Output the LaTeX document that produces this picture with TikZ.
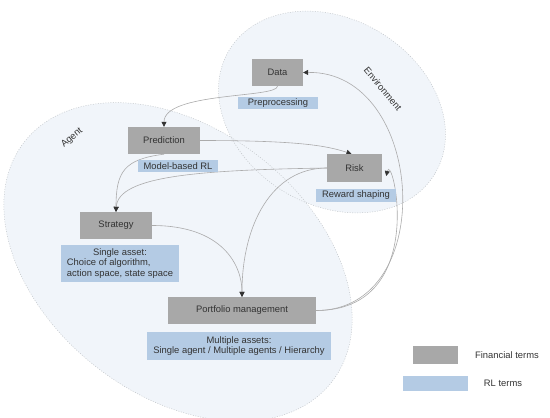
\documentclass[tikz,border=0pt]{standalone}
\usepackage{fontspec}
\setmainfont{Liberation Sans}
\usetikzlibrary{arrows.meta, positioning}
\definecolor{finGrey}{HTML}{A8A8A8}
\definecolor{rlBlue}{HTML}{B4CBE4}
\definecolor{zoneFill}{HTML}{F1F5FA}
\definecolor{zoneLine}{HTML}{C2C6CA}
\definecolor{linkGrey}{HTML}{ABABAB}
\definecolor{txtGrey}{HTML}{333333}
\pgfdeclarelayer{zones}
\pgfdeclarelayer{links}
\pgfsetlayers{zones,links,main}
\tikzset{
  every node/.style = {font=\fontsize{9.4}{10.6}\selectfont, text=txtGrey},
  fin/.style        = {fill=finGrey, inner sep=0pt},
  rl/.style         = {fill=rlBlue, inner sep=0pt},
  zonelbl/.style    = {inner sep=0.5pt},
  zone/.style       = {fill=zoneFill},
  zoneborder/.style = {zoneLine, line width=0.5pt, dash pattern=on 1pt off 1.5pt},
  link/.style       = {linkGrey, line width=0.6pt,
                       -{Triangle[length=5pt, width=5pt, color=txtGrey]}},
}
\begin{document}
\begin{tikzpicture}[x=1pt,y=-1pt]
  \useasboundingbox (0,0) rectangle (550,418);
  \begin{pgfonlayer}{zones}
    \fill[zone, rotate around={-38:(178,262)}] (178,262) ellipse [x radius=195, y radius=133];
    \fill[zone, rotate around={-31:(332,112)}] (332,112) ellipse [x radius=120, y radius=93];
    \draw[zoneborder, rotate around={-38:(178,262)}] (178,262) ellipse [x radius=195, y radius=133];
    \draw[zoneborder, rotate around={-31:(332,112)}] (332,112) ellipse [x radius=120, y radius=93];
  \end{pgfonlayer}
  \node[zonelbl, rotate=40] (agent) at (72,138) {Agent};
  \node[zonelbl, rotate=-50] (env) at (383,89) {Environment};
  \node[fin, minimum width=51pt, minimum height=27pt] (data) at (277.5,72.5) {Data};
  \node[rl, minimum width=80pt, minimum height=12pt] (prep) at (278,103) {Preprocessing};
  \node[fin, minimum width=55pt, minimum height=28pt] (risk) at (354.5,168) {Risk};
  \node[rl, minimum width=80pt, minimum height=13pt] (reward) at (356,195.5) {Reward shaping};
  \node[fin, minimum width=72pt, minimum height=27pt] (pred) at (164,140.5) {Prediction};
  \node[rl, minimum width=80pt, minimum height=12pt] (mbrl) at (178,166) {Model-based RL};
  \node[fin, minimum width=72pt, minimum height=27pt] (strat) at (116,225.5) {Strategy};
  \node[rl, minimum width=118pt, minimum height=37pt] (single) at (120,263.5)
    {\begin{tabular}{@{}l@{}}\multicolumn{1}{@{}c@{}}{Single asset:}\\Choice of algorithm,\\action space, state space\end{tabular}};
  \node[fin, minimum width=148pt, minimum height=27pt] (port) at (242,310.5) {Portfolio management};
  \node[rl, minimum width=184pt, minimum height=28pt, align=center] (multi) at (239,346)
    {Multiple assets:\\Single agent / Multiple agents / Hierarchy};
  \node[fin, minimum width=45pt, minimum height=18pt] (keyfin) at (435.5,355) {};
  \node[rl, minimum width=65pt, minimum height=15pt] (keyrl) at (435.5,383.5) {};
  \node (keyfintxt) at (507,355) {Financial terms};
  \node (keyrltxt) at (503,383.5) {RL terms};
  \begin{pgfonlayer}{links}
    \draw[link] (data.south) .. controls +(0,12) and +(0,-35) .. (pred.north);
    \draw[link] (pred.east) .. controls +(100,0) and +(-25,-8) .. ([xshift=-3pt]risk.north);
    \draw[link] (risk.west) .. controls +(-127,2) and +(2,-36) .. (strat.north);
    \draw[link] (pred.south) .. controls +(-40,5) and +(0,-40) .. (strat.north);
    \draw[link] (strat.east) .. controls +(70,0) and +(0,-32) .. (port.north);
    \draw[link] (risk.west) .. controls +(-55,0) and +(0,-72) .. (port.north);
    \draw[link] (port.east) .. controls +(114,0) and +(6,-26) .. ([xshift=4pt,yshift=-8pt]risk.east);
    \draw[link] (port.east) .. controls +(124,0) and +(122,-2) .. (data.east);
  \end{pgfonlayer}
\end{tikzpicture}
\end{document}
